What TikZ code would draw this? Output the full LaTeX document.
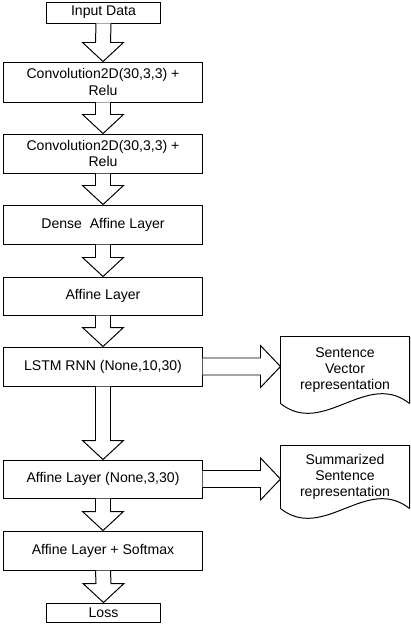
\documentclass[tikz,border=0pt]{standalone}
\usepackage{fontspec}
\setmainfont{Liberation Sans}
\usetikzlibrary{calc}
% hollow block arrows between named nodes
\newcommand{\blockdown}[2]{%
\draw[block arrow] ($(#1.south)+(-7.5,0)$) -- ($(#2.north)+(-7.5,-19)$) -- ($(#2.north)+(-20.5,-19)$) -- (#2.north)
  -- ($(#2.north)+(20.5,-19)$) -- ($(#2.north)+(7.5,-19)$) -- ($(#1.south)+(7.5,0)$);}
\newcommand{\blockright}[2]{%
\coordinate (tip) at (#2.west |- #1.east);
\draw[block arrow] ($(#1.east)+(0,-8.5)$) -- ($(tip)+(-20,-8.5)$) -- ($(tip)+(-20,-21)$) -- (tip)
  -- ($(tip)+(-20,21)$) -- ($(tip)+(-20,8.5)$) -- ($(#1.east)+(0,8.5)$);}
\begin{document}
\begin{tikzpicture}[x=0.025cm, y=-0.025cm, line width=0.7pt,
  layer node/.style={rectangle,draw,minimum width=4.95cm,minimum height=0.975cm,inner sep=0pt,align=center},
  doc node/.style={minimum width=3.2cm,minimum height=1.65cm,inner sep=0pt,align=center},
  block arrow/.style={draw,fill=white,line join=miter}]
\useasboundingbox (0,0) rectangle (411,625);
\begin{scope}[every node/.style={font=\fontsize{10}{11.5}\selectfont}]
\node [layer node,minimum width=2.825cm,minimum height=0.525cm](l0) at (103.5,12.5) {Input Data};
\node [layer node,minimum height=1cm](l1) at (103,82) {Convolution2D(30,3,3) +\\Relu};
\node [layer node](l2) at (103,153.5) {Convolution2D(30,3,3) +\\Relu};
\node [layer node](l3) at (103,224.5) {Dense\ \ Affine Layer};
\node [layer node,minimum height=0.95cm](l4) at (103,296) {Affine Layer};
\node [layer node](l5) at (103,366.5) {LSTM RNN (None,10,30)};
\node [layer node,minimum height=0.95cm](l6) at (103,479) {Affine Layer (None,3,30)};
\node [layer node](l7) at (103,550.5) {Affine Layer + Softmax};
\node [layer node,minimum width=2.825cm,minimum height=0.475cm](l8) at (103.5,612.5) {Loss};
\node [doc node](d1) at (345,370) {Sentence\\Vector\\representation};
\node [doc node,minimum height=1.55cm](d2) at (345,477) {Summarized\\Sentence\\representation};
\end{scope}
% document outlines with wavy bottom
\foreach \d in {d1,d2}
  \draw (\d.south east) -- (\d.north east) -- (\d.north west) -- (\d.south west)
    .. controls ($(\d.south west)+(43,34)$) and ($(\d.south east)+(-43,-34)$) .. (\d.south east);
\blockdown{l0}{l1}
\blockdown{l1}{l2}
\blockdown{l2}{l3}
\blockdown{l3}{l4}
\blockdown{l4}{l5}
\blockdown{l5}{l6}
\blockdown{l6}{l7}
\blockdown{l7}{l8}
\blockright{l5}{d1}
\blockright{l6}{d2}
\end{tikzpicture}
\end{document}
